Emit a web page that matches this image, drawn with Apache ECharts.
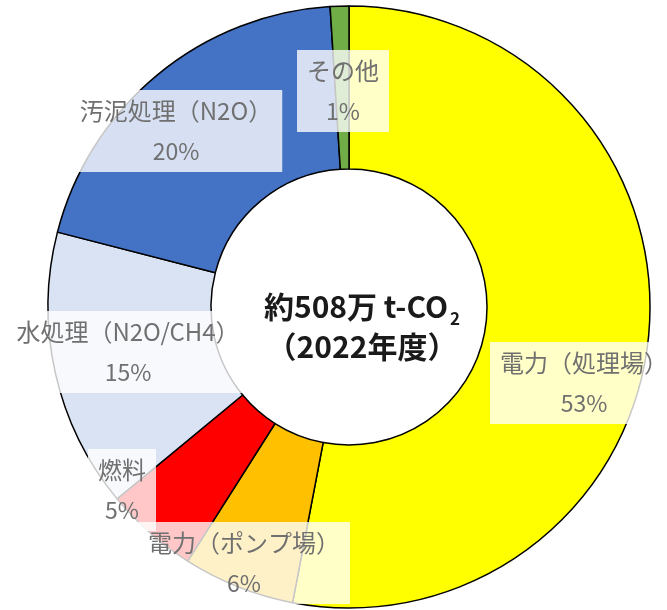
<!DOCTYPE html>
<html>
<head>
<meta charset="utf-8">
<script src="https://cdn.jsdelivr.net/npm/echarts@6/dist/echarts.min.js"></script>
<style>
  html, body { margin: 0; padding: 0; background: #fff; }
  #chart { width: 667px; height: 610px; }
</style>
</head>
<body>
<div id="chart"></div>
<script>
// emission shares, clockwise from 12 o'clock
const categories = ['電力（処理場）', '電力（ポンプ場）', '燃料', '水処理（N2O/CH4）', '汚泥処理（N2O）', 'その他'];
const shares = [53, 6, 5, 15, 20, 1];
const colors = ['#ffff00', '#ffc000', '#ff0000', '#dae3f3', '#4472c4', '#70ad47'];
const totalText = '約508万 t-CO';
const yearText = '（2022年度）';

// where each label box sits (centre of the box)
const labelSpots = [[584, 383], [244, 563], [122, 490], [128, 352], [176, 131], [343, 91]];

const chart = echarts.init(document.getElementById('chart'), null, { renderer: 'canvas' });

const font = '"Noto Sans CJK JP", "Noto Sans", sans-serif';

chart.setOption({
  backgroundColor: '#fff',
  animation: false,
  color: colors,
  title: {
    text: '{a|' + totalText + '}{s|2}\n{a|' + yearText + '}',
    left: 357,
    top: 282,
    textAlign: 'center',
    textStyle: {
      rich: {
        a: { fontFamily: font, fontSize: 30, fontWeight: 'bold', color: '#1a1a1a', lineHeight: 40 },
        s: { fontFamily: font, fontSize: 17, fontWeight: 'bold', color: '#1a1a1a', lineHeight: 22, verticalAlign: 'bottom', padding: [0, 0, 0, 2] }
      }
    }
  },
  series: [{
    type: 'pie',
    center: [349, 307],
    radius: [138, 301],
    startAngle: 90,
    clockwise: true,
    avoidLabelOverlap: false,
    itemStyle: { borderColor: '#000', borderWidth: 1.5 },
    labelLine: { show: false },
    label: {
      show: true,
      position: 'inside',
      formatter: '{n|{b}}\n{p|{c}%}',
      backgroundColor: 'rgba(255,255,255,0.78)',
      padding: [0, 10],
      rich: {
        n: { fontFamily: font, fontSize: 24, color: '#707070', lineHeight: 41 },
        p: { fontFamily: font, fontSize: 23, color: '#707070', lineHeight: 41 }
      }
    },
    labelLayout: function (p) {
      const s = labelSpots[p.dataIndex];
      return { x: s[0], y: s[1], align: 'center', verticalAlign: 'middle' };
    },
    emphasis: { disabled: true },
    data: categories.map((c, i) => ({ name: c, value: shares[i] }))
  }]
});
</script>
</body>
</html>
